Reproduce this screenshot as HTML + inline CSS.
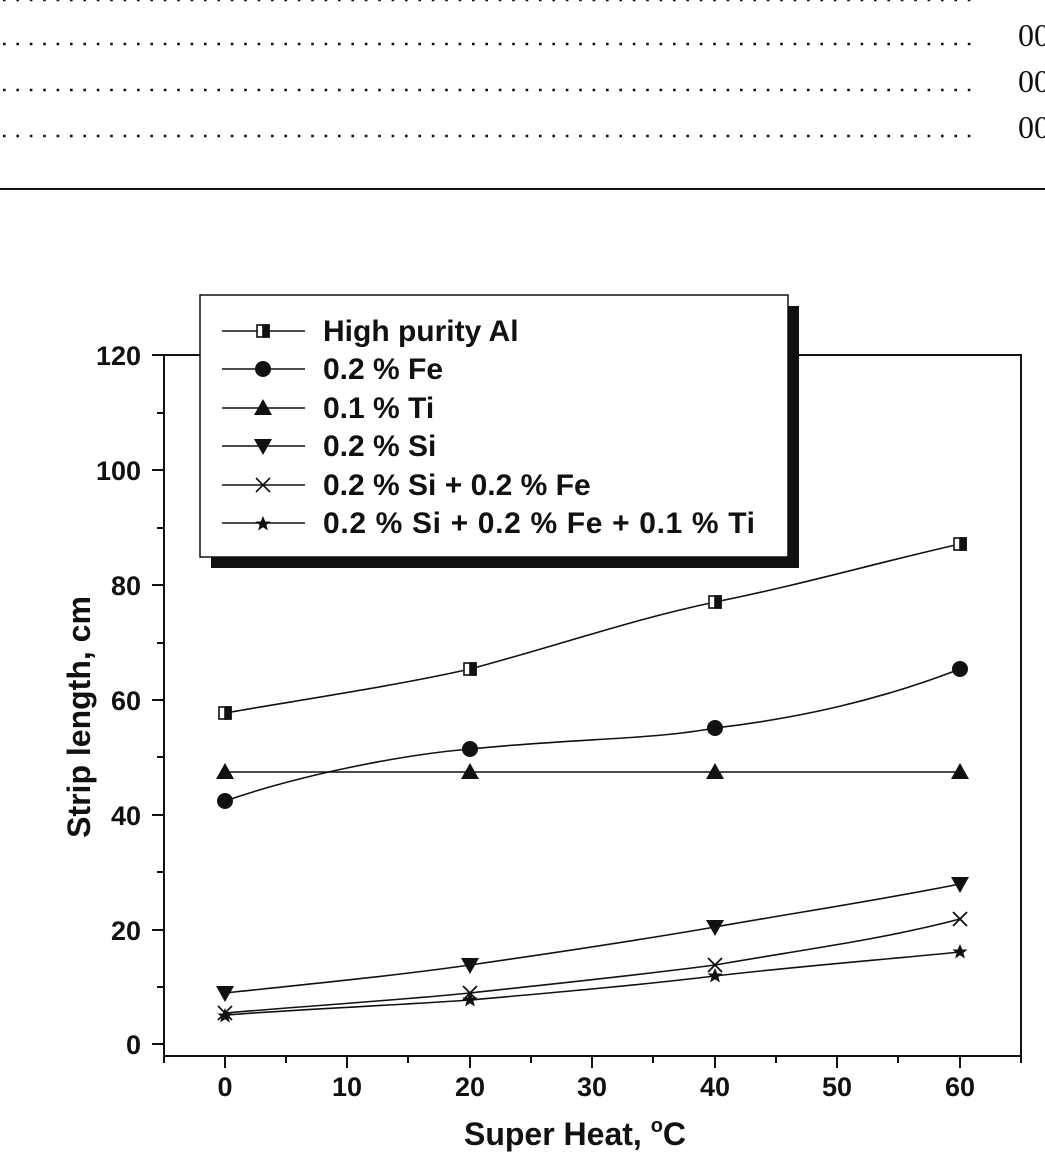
<!DOCTYPE html>
<html><head><meta charset="utf-8"><style>
html,body{margin:0;padding:0;background:#fff;overflow:hidden;width:1045px;height:1160px;}
svg{display:block;}
text{font-family:"Liberation Sans",Arial,sans-serif;font-weight:bold;fill:#111;}
.s{font-family:"Liberation Serif",serif;font-weight:normal;}
</style></head><body>
<svg width="1045" height="1160" viewBox="0 0 1045 1160" xmlns="http://www.w3.org/2000/svg">
<defs>
<path id="st" d="M0,-8 L2.3,-2.5 L7.6,-2.5 L3.4,1 L4.9,6.5 L0,3.2 L-4.9,6.5 L-3.4,1 L-7.6,-2.5 L-2.3,-2.5Z"/>
</defs>
<g stroke="#111" stroke-width="2.6" stroke-dasharray="2.6 10.8">
<line x1="3" y1="0" x2="975" y2="0"/>
<line x1="3" y1="44" x2="975" y2="44"/>
<line x1="3" y1="90" x2="975" y2="90"/>
<line x1="3" y1="136" x2="975" y2="136"/>
</g>
<text class="s" x="1018" y="46" font-size="32">00</text>
<text class="s" x="1018" y="92" font-size="32">00</text>
<text class="s" x="1018" y="138" font-size="32">00</text>
<line x1="0" y1="189" x2="1045" y2="189" stroke="#111" stroke-width="2"/>

<rect x="164" y="355" width="857" height="701" fill="none" stroke="#111" stroke-width="2"/>
<g stroke="#111" stroke-width="2">
<line x1="152" y1="355" x2="164" y2="355"/><line x1="152" y1="470" x2="164" y2="470"/>
<line x1="152" y1="585" x2="164" y2="585"/><line x1="152" y1="700" x2="164" y2="700"/>
<line x1="152" y1="815" x2="164" y2="815"/><line x1="152" y1="930" x2="164" y2="930"/>
<line x1="152" y1="1044" x2="164" y2="1044"/>
<line x1="157" y1="413" x2="164" y2="413"/><line x1="157" y1="528" x2="164" y2="528"/>
<line x1="157" y1="643" x2="164" y2="643"/><line x1="157" y1="757" x2="164" y2="757"/>
<line x1="157" y1="872" x2="164" y2="872"/><line x1="157" y1="987" x2="164" y2="987"/>
<line x1="225" y1="1056" x2="225" y2="1068"/><line x1="347" y1="1056" x2="347" y2="1068"/>
<line x1="470" y1="1056" x2="470" y2="1068"/><line x1="592" y1="1056" x2="592" y2="1068"/>
<line x1="715" y1="1056" x2="715" y2="1068"/><line x1="837" y1="1056" x2="837" y2="1068"/>
<line x1="960" y1="1056" x2="960" y2="1068"/>
<line x1="286" y1="1056" x2="286" y2="1063"/><line x1="408" y1="1056" x2="408" y2="1063"/>
<line x1="531" y1="1056" x2="531" y2="1063"/><line x1="653" y1="1056" x2="653" y2="1063"/>
<line x1="776" y1="1056" x2="776" y2="1063"/><line x1="898" y1="1056" x2="898" y2="1063"/>
<line x1="1021" y1="1056" x2="1021" y2="1063"/><line x1="164" y1="1056" x2="164" y2="1063"/>
</g>
<g font-size="27" text-anchor="end">
<text x="141" y="365">120</text><text x="141" y="480">100</text><text x="141" y="595">80</text>
<text x="141" y="710">60</text><text x="141" y="825">40</text><text x="141" y="940">20</text>
<text x="141" y="1054">0</text>
</g>
<g font-size="27" text-anchor="middle">
<text x="225" y="1096">0</text><text x="347" y="1096">10</text><text x="470" y="1096">20</text>
<text x="592" y="1096">30</text><text x="715" y="1096">40</text><text x="837" y="1096">50</text>
<text x="960" y="1096">60</text>
</g>
<text x="575" y="1145" font-size="32" text-anchor="middle">Super Heat, <tspan font-size="20" dy="-13">o</tspan><tspan dy="13">C</tspan></text>
<text transform="translate(90,717) rotate(-90)" font-size="32" text-anchor="middle">Strip length, cm</text>

<g fill="none" stroke="#111" stroke-width="1.6">
<path d="M225,713 C300,700 400,685 470,669 C560,645 630,620 715,602 C800,585 880,562 960,544"/>
<path d="M225,801 C300,775 400,755 470,749 C580,738 650,740 715,728 C800,718 880,700 960,669"/>
<path d="M225,772 L960,772"/>
<path d="M225,993 C320,983 400,975 470,965 C560,952 640,940 715,927 C800,912 880,900 960,884"/>
<path d="M225,1013 C320,1005 400,1000 470,993 C560,983 640,975 715,965 C800,950 880,940 960,919"/>
<path d="M225,1015 C320,1008 400,1005 470,1000 C560,992 640,985 715,976 C800,966 880,960 960,952"/>
</g>
<g stroke="#111" stroke-width="1.6">
<rect x="219" y="707" width="12" height="12" fill="#fff"/><rect x="225" y="707" width="6" height="12" fill="#111"/>
<rect x="464" y="663" width="12" height="12" fill="#fff"/><rect x="470" y="663" width="6" height="12" fill="#111"/>
<rect x="709" y="596" width="12" height="12" fill="#fff"/><rect x="715" y="596" width="6" height="12" fill="#111"/>
<rect x="954" y="538" width="12" height="12" fill="#fff"/><rect x="960" y="538" width="6" height="12" fill="#111"/>
</g>
<g fill="#111">
<circle cx="225" cy="801" r="8"/><circle cx="470" cy="749" r="8"/><circle cx="715" cy="728" r="8"/><circle cx="960" cy="669" r="8"/>
<path d="M225,763 l9,16 h-18z"/><path d="M470,763 l9,16 h-18z"/><path d="M715,763 l9,16 h-18z"/><path d="M960,763 l9,16 h-18z"/>
<path d="M225,1002 l9,-16 h-18z"/><path d="M470,974 l9,-16 h-18z"/><path d="M715,936 l9,-16 h-18z"/><path d="M960,893 l9,-16 h-18z"/>
</g>
<g stroke="#111" stroke-width="1.8">
<path d="M218,1006 l14,14 M232,1006 l-14,14"/><path d="M463,986 l14,14 M477,986 l-14,14"/>
<path d="M708,958 l14,14 M722,958 l-14,14"/><path d="M953,912 l14,14 M967,912 l-14,14"/>
</g>
<g fill="#111">
<use href="#st" x="225" y="1016"/><use href="#st" x="470" y="1000"/><use href="#st" x="715" y="976"/><use href="#st" x="960" y="952"/>
</g>

<rect x="211" y="306" width="588" height="262" fill="#111"/>
<rect x="200" y="295" width="588" height="262" fill="#fff" stroke="#111" stroke-width="1.5"/>
<g stroke="#111" stroke-width="1.6">
<line x1="222" y1="331" x2="305" y2="331"/><line x1="222" y1="369" x2="305" y2="369"/>
<line x1="222" y1="408" x2="305" y2="408"/><line x1="222" y1="446" x2="305" y2="446"/>
<line x1="222" y1="485" x2="305" y2="485"/><line x1="222" y1="523" x2="305" y2="523"/>
<rect x="257" y="325" width="12" height="12" fill="#fff"/><rect x="263" y="325" width="6" height="12" fill="#111"/>
<path d="M256,478 l14,14 M270,478 l-14,14"/>
</g>
<g fill="#111">
<circle cx="263" cy="369" r="8"/>
<path d="M263,399 l9,16 h-18z"/>
<path d="M263,455 l9,-16 h-18z"/>
<use href="#st" x="263" y="524"/>
</g>
<g font-size="30">
<text x="323" y="341">High purity Al</text>
<text x="323" y="379">0.2 % Fe</text>
<text x="323" y="418">0.1 % Ti</text>
<text x="323" y="456">0.2 % Si</text>
<text x="323" y="495">0.2 % Si + 0.2 % Fe</text>
<text x="323" y="533" textLength="432">0.2 % Si + 0.2 % Fe + 0.1 % Ti</text>
</g>
</svg>
</body></html>
